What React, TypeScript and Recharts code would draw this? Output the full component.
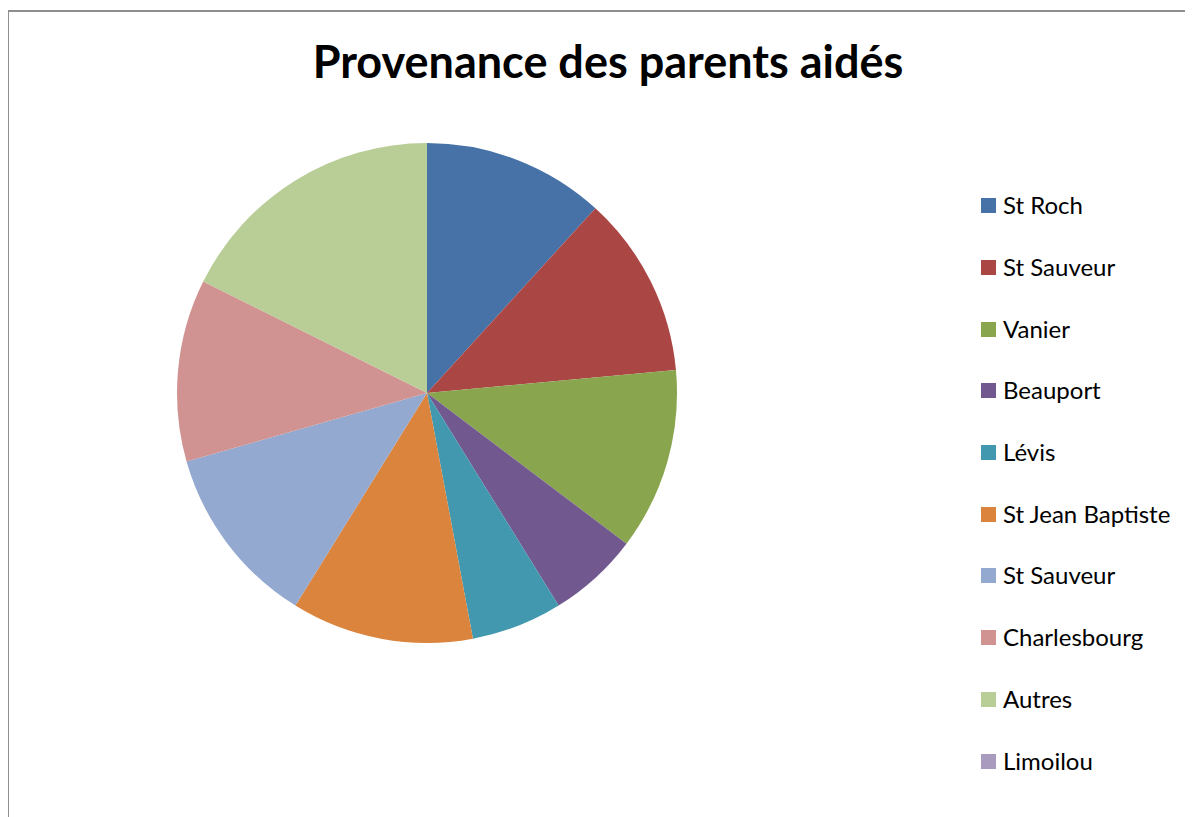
import { PieChart, Pie, Cell, Legend } from 'recharts'

const categories = [
  'St Roch',
  'St Sauveur',
  'Vanier',
  'Beauport',
  'Lévis',
  'St Jean Baptiste',
  'St Sauveur',
  'Charlesbourg',
  'Autres',
  'Limoilou',
]
const values = [2, 2, 2, 1, 1, 2, 2, 2, 3, 0]
const colors = [
  '#4672A8',
  '#AA4644',
  '#89A54E',
  '#71588F',
  '#4298AF',
  '#DB843D',
  '#93A9CF',
  '#D19392',
  '#B9CD96',
  '#A99BBD',
]

const data = categories.map((name, i) => ({ name, value: values[i] }))

const font = 'Lato, "Open Sans", sans-serif'

function LegendBox() {
  return (
    <div style={{ fontFamily: font, fontSize: 24, color: '#000' }}>
      {categories.map((c, i) => (
        <div key={i} style={{ display: 'flex', alignItems: 'center', height: 61.7 }}>
          <span style={{ display: 'inline-block', width: 15, height: 15, background: colors[i], marginRight: 7 }} />
          <span style={{ position: 'relative', top: -1 }}>{c}</span>
        </div>
      ))}
    </div>
  )
}

export default function App() {
  return (
    <div style={{ position: 'relative', width: 1185, height: 809, background: '#fff' }}>
      <div
        style={{
          position: 'absolute',
          left: -1,
          top: 2,
          right: -10,
          bottom: -10,
          borderTop: '2px solid #8f8f8f',
          borderLeft: '2px solid #8f8f8f',
        }}
      />
      <div
        style={{
          position: 'absolute',
          left: 0,
          top: 26,
          width: 1200,
          textAlign: 'center',
          fontFamily: font,
          fontWeight: 700,
          fontSize: 45,
          color: '#000',
        }}
      >
        Provenance des parents aidés
      </div>
      <PieChart width={1185} height={809} style={{ position: 'absolute', left: 0, top: 0 }}>
        <Pie
          data={data}
          dataKey="value"
          nameKey="name"
          cx={414}
          cy={380}
          outerRadius={250}
          startAngle={90}
          endAngle={-270}
          stroke="none"
          isAnimationActive={false}
        >
          {data.map((_, i) => (
            <Cell key={i} fill={colors[i]} />
          ))}
        </Pie>
        <Legend
          layout="vertical"
          align="right"
          verticalAlign="top"
          content={() => <LegendBox />}
          wrapperStyle={{ left: 973, top: 167, width: 215 }}
        />
      </PieChart>
    </div>
  )
}
